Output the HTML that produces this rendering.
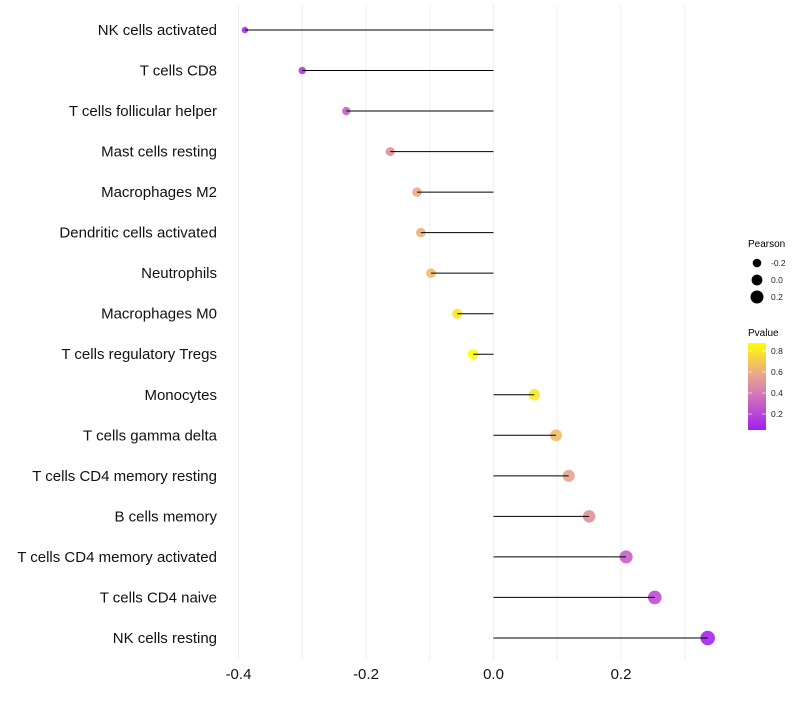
<!DOCTYPE html>
<html><head><meta charset="utf-8"><style>
body{margin:0;background:#fff;}
svg{font-family:"Liberation Sans",sans-serif;}
</style></head><body>
<svg id="chart" width="800" height="700" viewBox="0 0 800 700">
<g id="grid"></g>
<g id="marks"></g>
<g id="ylabels"></g>
<g id="xlabels"></g>
<g id="legend">
<text x="748" y="247" font-size="10">Pearson</text>
<g id="sizeLegend"></g>
<text x="748" y="336" font-size="10">Pvalue</text>
<defs><linearGradient id="pg" x1="0" y1="1" x2="0" y2="0">
<stop offset="0" stop-color="#a020f0"/><stop offset="0.45" stop-color="#d880b0"/><stop offset="0.65" stop-color="#eba888"/><stop offset="1" stop-color="#ffff00"/></linearGradient></defs>
<rect x="748" y="343" width="18" height="87" fill="url(#pg)"/>
<g id="cbTicks"></g>
</g>
</svg>
<script>
const categories=["NK cells activated","T cells CD8","T cells follicular helper","Mast cells resting","Macrophages M2","Dendritic cells activated","Neutrophils","Macrophages M0","T cells regulatory  Tregs","Monocytes","T cells gamma delta","T cells CD4 memory resting","B cells memory","T cells CD4 memory activated","T cells CD4 naive","NK cells resting"];
const pearson=[-0.39,-0.30,-0.231,-0.162,-0.12,-0.114,-0.098,-0.057,-0.032,0.064,0.098,0.118,0.15,0.208,0.253,0.336];
const pvalue=[0.12,0.15,0.3,0.45,0.58,0.62,0.66,0.8,0.88,0.8,0.66,0.56,0.45,0.3,0.22,0.07];
const xTicks=[-0.4,-0.2,0.0,0.2];
const xTickLabels=["-0.4","-0.2","0.0","0.2"];
const sizeLegendVals=[-0.2,0.0,0.2];
const cbTickVals=[0.2,0.4,0.6,0.8];

const NS="http://www.w3.org/2000/svg";
const x=v=>493.5+v*637.5;
const y=i=>30+i*40.53;
const r=p=>5.4+5.5*p;
const cy=v=>430-(v-0.048)/(0.876-0.048)*87;
function lerp(a,b,t){return Math.round(a+(b-a)*t);}
const stops=[[0.05,[160,32,240]],[0.3,[200,96,200]],[0.45,[224,144,150]],[0.6,[235,170,136]],[0.876,[255,255,0]]];
function color(p){
  if(p<=stops[0][0])return `rgb(${stops[0][1]})`;
  for(let k=1;k<stops.length;k++){if(p<=stops[k][0]){const t=(p-stops[k-1][0])/(stops[k][0]-stops[k-1][0]);const a=stops[k-1][1],b=stops[k][1];return `rgb(${lerp(a[0],b[0],t)},${lerp(a[1],b[1],t)},${lerp(a[2],b[2],t)})`;}}
  return "rgb(255,255,0)";
}
function mk(tag,attrs,parent){const e=document.createElementNS(NS,tag);for(const k in attrs)e.setAttribute(k,attrs[k]);parent.appendChild(e);return e;}
const grid=document.getElementById('grid');
for(let v=-0.4;v<=0.31;v+=0.1){
  const l=mk('line',{x1:x(v),x2:x(v),y1:5,y2:660,stroke:'#efefef','stroke-width':1},grid);
  
  
}
const marks=document.getElementById('marks');
const yl=document.getElementById('ylabels');
categories.forEach((c,i)=>{
  const dot=mk('circle',{cx:x(pearson[i]),cy:y(i),r:r(pearson[i]),fill:color(pvalue[i]),'fill-opacity':0.9},marks);
  
  
  const seg=mk('line',{x1:x(0),x2:x(pearson[i]),y1:y(i),y2:y(i),stroke:'#000','stroke-width':1},marks);
  
  
  const t=mk('text',{x:217,y:y(i)+5,'text-anchor':'end','font-size':15,fill:'#111','xml:space':'preserve'},yl);
  t.textContent=c;
  
  
});
const xl=document.getElementById('xlabels');
xTicks.forEach((v,i)=>{
  const t=mk('text',{x:x(v),y:679,'text-anchor':'middle','font-size':15,fill:'#111'},xl);
  t.textContent=xTickLabels[i];
  
  
});
const sl=document.getElementById('sizeLegend');
sizeLegendVals.forEach((v,i)=>{
  const c=mk('circle',{cx:757,cy:263+i*17,r:r(v),fill:'#000'},sl);
  
  
  const t=mk('text',{x:771,y:266+i*17,'font-size':8.5,fill:'#222'},sl);
  t.textContent=v.toFixed(1);
  
  
});
const cb=document.getElementById('cbTicks');
cbTickVals.forEach(v=>{
  mk('line',{x1:748,x2:752,y1:cy(v),y2:cy(v),stroke:'#fff','stroke-width':0.6},cb);
  mk('line',{x1:762,x2:766,y1:cy(v),y2:cy(v),stroke:'#fff','stroke-width':0.6},cb);
  const t=mk('text',{x:771,y:cy(v)+3,'font-size':8.5,fill:'#222'},cb);
  t.textContent=v.toFixed(1);
  
  
});
</script>
</body></html>
